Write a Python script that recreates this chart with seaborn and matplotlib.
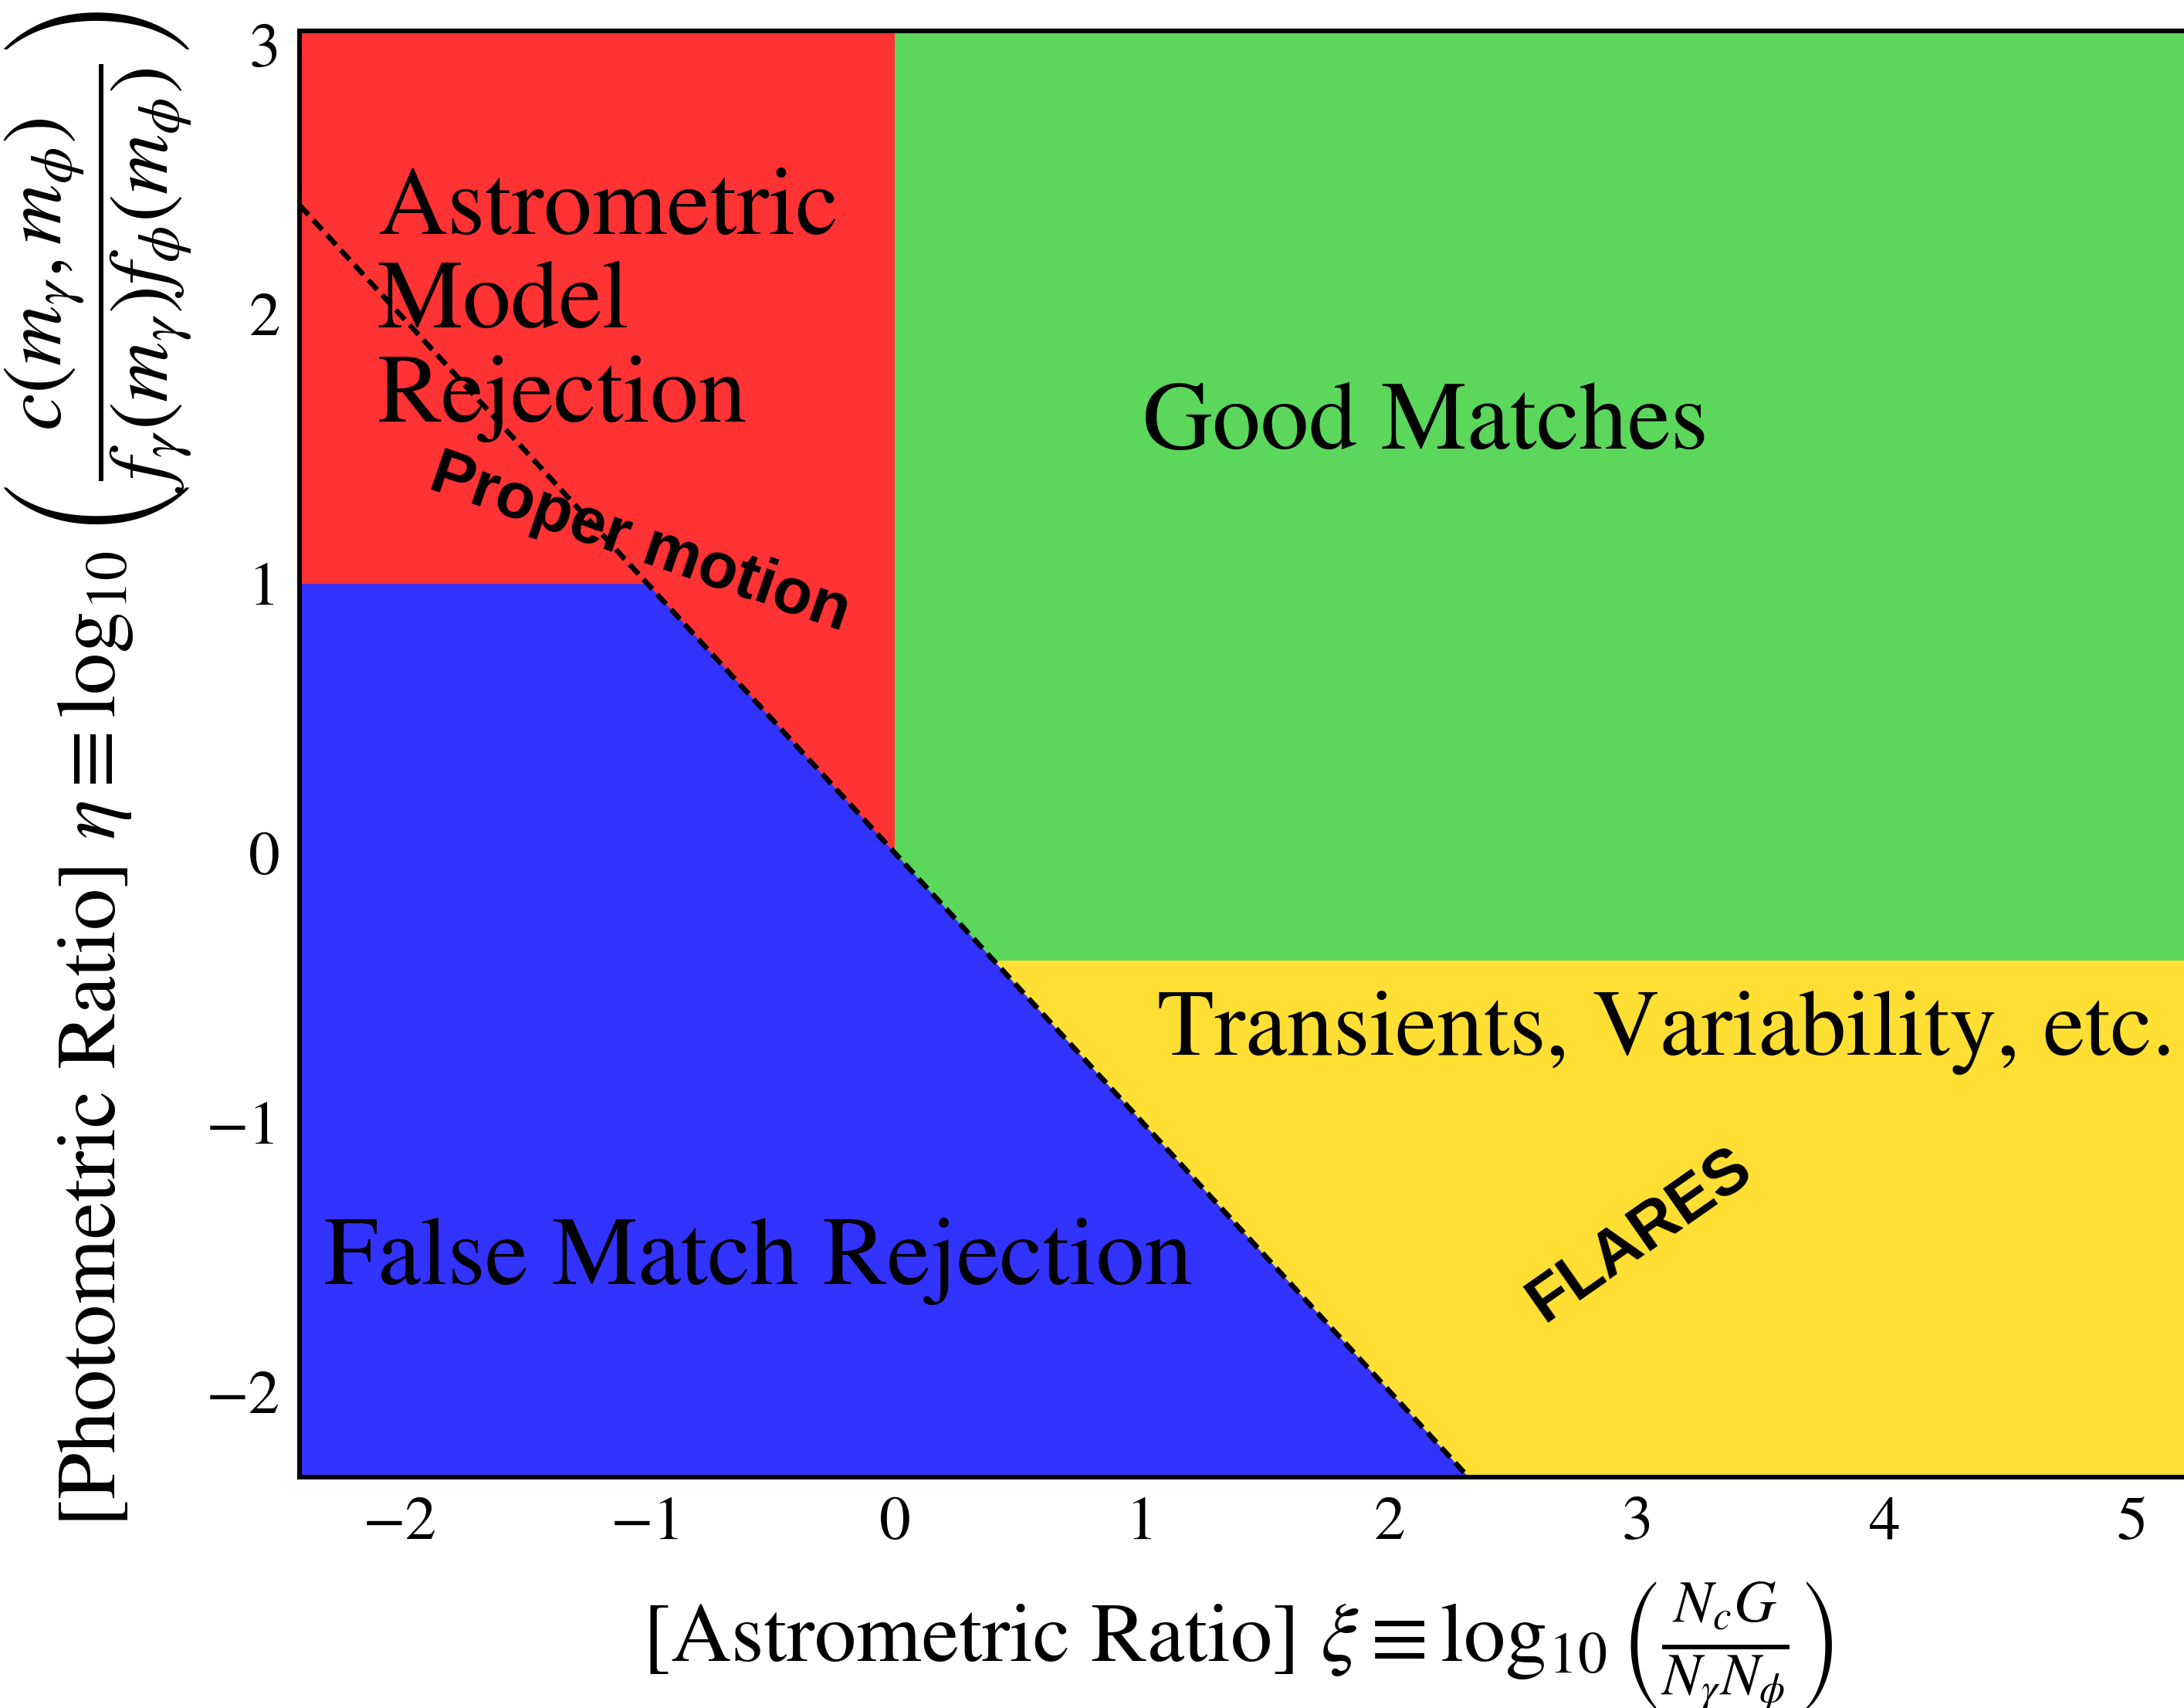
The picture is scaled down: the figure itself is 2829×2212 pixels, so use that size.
import numpy as np
import pandas as pd
import seaborn as sns
import matplotlib.pyplot as plt

# axis limits
x_lim = [-2.405, 5.25]
y_lim = [-2.318, 3.052]

# region boundaries
astro_cut = 0.0          # vertical red / green border
photo_cut = -0.4         # green / yellow border
false_x = [-2.405, -1.0, 2.318]   # top edge of the blue region
false_y = [1.0, 1.0, -2.318]

# proper-motion line (dashed)
pm_x = [-2.405, 2.318]
pm_y = [2.405, -2.318]

red = "#ff3333"
blue = "#3333ff"
green = "#5bd75b"
yellow = "#ffdf33"

sns.set_style("ticks", {
    "xtick.direction": "in",
    "ytick.direction": "in",
    "axes.edgecolor": "black",
    "text.color": "black",
    "axes.labelcolor": "black",
    "xtick.color": "black",
    "ytick.color": "black",
})
plt.rcParams["font.family"] = ["STIXGeneral", "DejaVu Serif"]
plt.rcParams["mathtext.fontset"] = "stix"
plt.rcParams["xtick.top"] = True
plt.rcParams["ytick.right"] = True

fig = plt.figure(figsize=(2829 / 300, 2212 / 300), dpi=300)
ax = fig.add_axes([388 / 2829, 1 - 1913 / 2212, (2842 - 388) / 2829, (1913 - 40) / 2212])

# coloured regions
ax.fill_between([x_lim[0], astro_cut], y_lim[0], y_lim[1], color=red, lw=0)
ax.fill_between([astro_cut, x_lim[1]], photo_cut, y_lim[1], color=green, lw=0)
ax.fill_between([astro_cut, x_lim[1]], y_lim[0], photo_cut, color=yellow, lw=0)
ax.fill_between(false_x, y_lim[0], false_y, color=blue, lw=0)

line = pd.DataFrame({"xi": pm_x, "eta": pm_y})
sns.lineplot(data=line, x="xi", y="eta", ax=ax, color="black", lw=1.6,
             linestyle=(0, (2.55, 1.4)), sort=False)

ax.set_xlim(x_lim)
ax.set_ylim(y_lim)
ax.set_xticks(np.arange(-2, 6, 1))
ax.set_yticks(np.arange(-2, 4, 1))
ax.tick_params(labelsize=19.5, length=2.3, width=0.6, pad=6)
for s in ax.spines.values():
    s.set_linewidth(1.45)

# region labels
big = 30
ax.text(-2.09, 1.60, "Astrometric\nModel\nRejection", fontsize=big,
        ha="left", va="baseline", linespacing=1.1)
ax.text(1.0, 1.5, "Good Matches", fontsize=big, ha="left", va="baseline")
ax.text(1.06, -0.75, "Transients, Variability, etc.", fontsize=29,
        ha="left", va="baseline")
ax.text(-2.306, -1.6, "False Match Rejection", fontsize=big,
        ha="left", va="baseline")

ax.text(-1.03, 1.15, "Proper motion", fontsize=20, fontweight="bold",
        family="Liberation Sans", rotation=-19, ha="center", va="center")
ax.text(3.01, -1.42, "FLARES", fontsize=20, fontweight="bold",
        family="Liberation Sans", rotation=35, ha="center", va="center")

ax.set_xlabel(r"[Astrometric Ratio] $\xi \equiv \log_{10}\left(\frac{N_c G}{N_\gamma N_\phi}\right)$",
              fontsize=26)
ax.set_ylabel(r"[Photometric Ratio] $\eta \equiv \log_{10}\left(\dfrac{c(m_\gamma,m_\phi)}{f_\gamma(m_\gamma)f_\phi(m_\phi)}\right)$",
              fontsize=26)
ax.xaxis.set_label_coords(0.495, -0.071)
ax.yaxis.set_label_coords(-0.056, 0.49)

fig.savefig("out.png", dpi=300)
